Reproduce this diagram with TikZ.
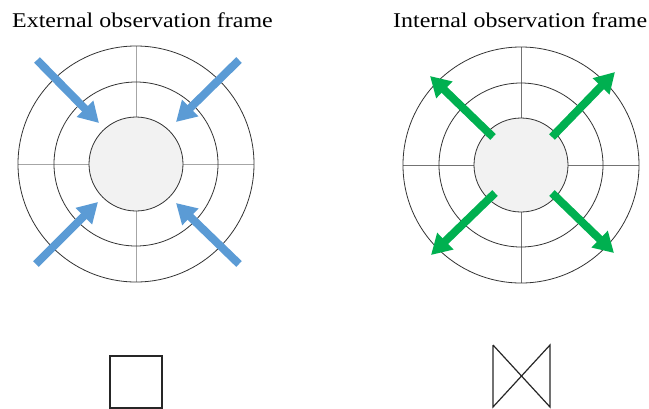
\documentclass[tikz,border=0pt]{standalone}
\usepackage{fontspec}
\setmainfont[FakeStretch=1.14]{Liberation Serif}
\usetikzlibrary{arrows.meta}
\definecolor{inarrow}{HTML}{5B9BD5}
\definecolor{outarrow}{HTML}{00B050}
\definecolor{core}{HTML}{F2F2F2}

\begin{document}
\begin{tikzpicture}[x=1pt, y=-1pt,
  every node/.style={font=\fontsize{21}{25}\selectfont},
  ring/.style={circle, draw=black!80, line width=0.8pt, inner sep=0pt},
  flow/.style={-{Triangle[length=20pt, width=22pt]}, line width=8pt, line cap=butt},
  title/.style={anchor=base west, inner sep=0pt},
]
  \useasboundingbox (0,0) rectangle (649,408);

  % titles
  \node[title] (lt) at (12,27) {External observation frame};
  \node[title] (rt) at (393,27) {Internal observation frame};

  % left frame: observed from outside
  \coordinate (lc) at (136,164);
  \draw[black!35, line width=0.8pt] (18,164) -- (254,164) (136,46) -- (136,282);
  \node[ring, minimum size=236pt] (louter) at (lc) {};
  \node[ring, minimum size=164pt] (lmid)   at (lc) {};
  \node[ring, minimum size=94pt, fill=core] (linner) at (lc) {};
  \coordinate (la1) at (37,60);   \coordinate (lb1) at (99,123);
  \coordinate (la2) at (239,60);  \coordinate (lb2) at (176,122);
  \coordinate (la3) at (36,264);  \coordinate (lb3) at (98,202);
  \coordinate (la4) at (239,264); \coordinate (lb4) at (176,203);
  \foreach \i in {1,...,4}
    \draw[flow, draw=inarrow, fill=inarrow] (la\i) -- (lb\i);

  % right frame: observed from inside
  \coordinate (rc) at (521,165);
  \draw[black!55, line width=0.8pt] (403,165) -- (639,165) (521,47) -- (521,283);
  \node[ring, minimum size=236pt] (router) at (rc) {};
  \node[ring, minimum size=164pt] (rmid)   at (rc) {};
  \node[ring, minimum size=94pt, fill=core] (rinner) at (rc) {};
  \coordinate (ra1) at (493,137); \coordinate (rb1) at (430,76);
  \coordinate (ra2) at (552,137); \coordinate (rb2) at (615,72);
  \coordinate (ra3) at (495,193); \coordinate (rb3) at (431,255);
  \coordinate (ra4) at (552,193); \coordinate (rb4) at (614,253);
  \foreach \i in {1,...,4}
    \draw[flow, draw=outarrow, fill=outarrow] (ra\i) -- (rb\i);

  % symbols below
  \draw[black!85, line width=1.3pt] (110,356) rectangle (162,408);
  \draw[black!85, line width=1.2pt] (493,345) -- (493,407) -- (550,345) -- (550,407) -- (493,345);
\end{tikzpicture}
\end{document}
